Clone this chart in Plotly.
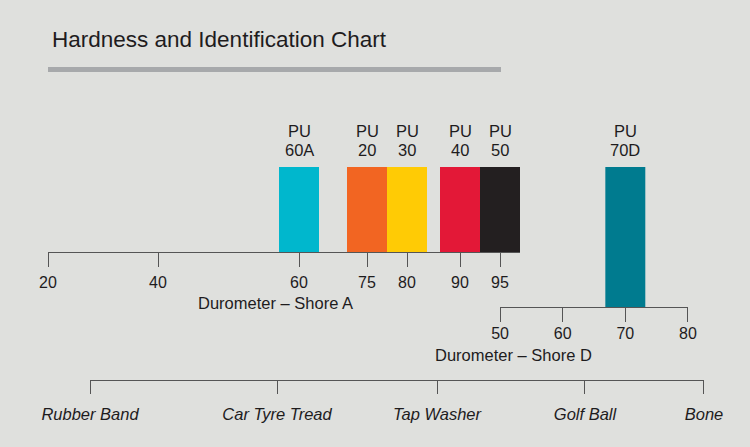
import plotly.graph_objects as go

# ---------------- data ----------------
TITLE = "Hardness and Identification Chart"

# Shore A scale (schematic, non-linear): tick values and their positions along the scale
shore_a_ticks = [20, 40, 60, 75, 80, 90, 95]
shore_a_tick_pos = [48, 158, 299, 367, 407, 460, 500]
shore_a_scale_end = 520

# Shore D scale (linear)
shore_d_ticks = [50, 60, 70, 80]

# Reference materials scale
reference_items = ["Rubber Band", "Car Tyre Tread", "Tap Washer", "Golf Ball", "Bone"]
reference_pos = [90, 277, 437, 585, 704]

# Products measured on Shore A
products_a = ["60A", "20", "30", "40", "50"]
hardness_a = [60, 75, 80, 90, 95]
colors_a = ["#00b7cd", "#f26522", "#ffcb05", "#e31837", "#231f20"]

# Products measured on Shore D
products_d = ["70D"]
hardness_d = [70]
colors_d = ["#007b8f"]

# ---------------- layout helpers ----------------
W, H = 750, 447
BG = "#dfe0dd"
TEXT = "#1e1c1d"
AXIS = "#555555"
FONT = "Liberation Sans, Arial, Helvetica, sans-serif"
BAR_PX = 40


def py(y):
    return 1 - y / H


def interp(v, xs, ps):
    for i in range(len(xs) - 1):
        if xs[i] <= v <= xs[i + 1]:
            t = (v - xs[i]) / (xs[i + 1] - xs[i])
            return ps[i] + t * (ps[i + 1] - ps[i])
    return ps[-1]


x_a = [interp(v, shore_a_ticks, shore_a_tick_pos) for v in hardness_a]

d_dom = [500 / W, 688 / W]
d_range = [shore_d_ticks[0], shore_d_ticks[-1]]
d_units_per_px = (d_range[1] - d_range[0]) / ((d_dom[1] - d_dom[0]) * W)

fig = go.Figure()

fig.add_trace(go.Bar(
    x=x_a, y=[1] * len(x_a), width=[BAR_PX] * len(x_a),
    marker=dict(color=colors_a, line=dict(width=0)),
    xaxis="x", yaxis="y", hoverinfo="skip",
))
fig.add_trace(go.Bar(
    x=hardness_d, y=[1] * len(hardness_d),
    width=[BAR_PX * d_units_per_px] * len(hardness_d),
    marker=dict(color=colors_d, line=dict(width=0)),
    xaxis="x2", yaxis="y2", hoverinfo="skip",
))
fig.add_trace(go.Scatter(
    x=reference_pos, y=[0] * len(reference_pos), mode="markers",
    marker=dict(opacity=0), xaxis="x3", yaxis="y3", hoverinfo="skip",
))

axis_common = dict(
    ticks="outside", tickwidth=1, tickcolor=AXIS,
    showline=True, linecolor=AXIS, linewidth=1,
    showgrid=False, zeroline=False, fixedrange=True, automargin=False,
)
yaxis_common = dict(range=[0, 1], visible=False, fixedrange=True, automargin=False)

annotations = []
for xv, name in zip(x_a, products_a):
    annotations.append(dict(x=xv, y=1, xref="x", yref="y", text="PU", showarrow=False,
                            yanchor="middle", yshift=36, font=dict(size=16.5, color=TEXT)))
    annotations.append(dict(x=xv, y=1, xref="x", yref="y", text=name, showarrow=False,
                            yanchor="middle", yshift=17, font=dict(size=16.5, color=TEXT)))
for xv, name in zip(hardness_d, products_d):
    annotations.append(dict(x=xv, y=1, xref="x2", yref="y2", text="PU", showarrow=False,
                            yanchor="middle", yshift=36, font=dict(size=16.5, color=TEXT)))
    annotations.append(dict(x=xv, y=1, xref="x2", yref="y2", text=name, showarrow=False,
                            yanchor="middle", yshift=17, font=dict(size=16.5, color=TEXT)))

annotations.append(dict(x=50 / W, y=py(39.5), xref="paper", yref="paper", text=TITLE,
                        showarrow=False, xanchor="left", yanchor="middle",
                        font=dict(size=22.5, color=TEXT)))
annotations.append(dict(x=275 / W, y=py(302.5), xref="paper", yref="paper",
                        text="Durometer – Shore A", showarrow=False, yanchor="middle",
                        font=dict(size=16.5, color=TEXT)))
annotations.append(dict(x=594 / W, y=py(355), xref="paper", yref="paper",
                        text="Durometer – Shore D", showarrow=False, yanchor="middle",
                        font=dict(size=16.5, color=TEXT)))

fig.update_layout(
    width=W, height=H, autosize=False,
    margin=dict(l=0, r=0, t=0, b=0, pad=0, autoexpand=False),
    paper_bgcolor=BG, plot_bgcolor="rgba(0,0,0,0)",
    showlegend=False, barmode="overlay",
    font=dict(family=FONT, color=TEXT),
    xaxis=dict(domain=[shore_a_tick_pos[0] / W, shore_a_scale_end / W],
               range=[shore_a_tick_pos[0] - 0.01, shore_a_scale_end], anchor="y",
               tickmode="array", tickvals=shore_a_tick_pos,
               ticktext=[str(t) for t in shore_a_ticks], ticklen=14, ticklabelstandoff=2,
               tickfont=dict(size=16, color=TEXT), **axis_common),
    yaxis=dict(domain=[py(252), py(167)], **yaxis_common),
    xaxis2=dict(domain=d_dom, range=[d_range[0] - 0.01, d_range[1] + 0.01], anchor="y2",
                tickmode="array", tickvals=shore_d_ticks,
                ticktext=[str(t) for t in shore_d_ticks], ticklen=14, ticklabelstandoff=-2,
                tickfont=dict(size=16, color=TEXT), **axis_common),
    yaxis2=dict(domain=[py(307), py(167)], **yaxis_common),
    xaxis3=dict(domain=[reference_pos[0] / W, reference_pos[-1] / W],
                range=[reference_pos[0] - 0.01, reference_pos[-1] + 0.01], anchor="y3",
                tickmode="array", tickvals=reference_pos, ticktext=reference_items,
                ticklen=13, ticklabelstandoff=7,
                tickfont=dict(size=16.5, color=TEXT, style="italic"),
                **axis_common),
    yaxis3=dict(domain=[py(379.5), py(370)], **yaxis_common),
    annotations=annotations,
    shapes=[dict(type="rect", xref="paper", yref="paper", x0=48 / W, x1=501 / W,
                 y0=py(72), y1=py(67), fillcolor="#a7a9ab", line=dict(width=0), layer="above")],
)

fig.write_html(
    "out.html",
    config={"displayModeBar": False, "responsive": False},
    post_script="document.body.style.margin='0';document.body.style.overflow='hidden';",
)
